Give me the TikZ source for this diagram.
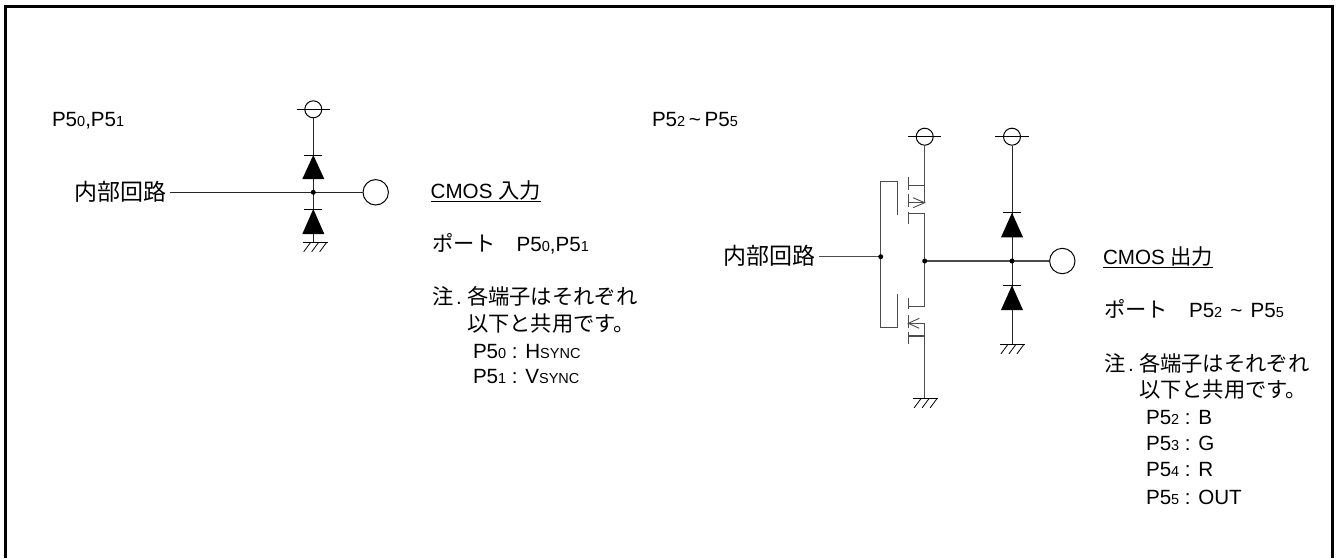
\documentclass[tikz,border=0pt]{standalone}
\usepackage{fontspec}
\setmainfont{Liberation Sans}
\newfontfamily\jp{Noto Sans CJK JP}
\newcommand{\lat}[1]{{\fontsize{20.6}{20.6}\selectfont #1}}
\newcommand{\sbs}[1]{{\fontsize{14.5}{14.5}\selectfont #1}}
\newcommand{\ja}[1]{{\jp\fontsize{21.3}{21.3}\selectfont #1}}
\tikzset{
  wire/.style={line width=1pt,black!85},
  thin wire/.style={line width=1.1pt,black!70},
  ring/.style={circle,draw,line width=1pt,fill=white,inner sep=0pt},
  vring/.style={ring,minimum size=17pt},
  outring/.style={ring,minimum size=25.4pt},
  junction/.style={circle,fill=black,inner sep=0pt,minimum size=5pt},
  txt/.style={anchor=base west,inner sep=0pt,outer sep=0pt},
  blockname/.style={anchor=base east,inner sep=0pt,font=\jp\fontsize{23}{23}\selectfont},
}
\newcommand{\diode}[3]{
  \fill[black] (#1,#2) -- (#1+11,#3) -- (#1-11,#3) -- cycle;
  \draw[line width=1pt] (#1-9,#2) -- (#1+9,#2);
}
\newcommand{\gnd}[2]{
  \draw[line width=1pt] (#1-12.5,#2) -- (#1+12.5,#2);
  \foreach \k in {0,1,2} {
    \draw[line width=.8pt] (#1-4.5+8*\k,#2) -- (#1-11.5+8*\k,#2+9.5);
  }
}
\begin{document}
\begin{tikzpicture}[x=1pt,y=-1pt]
\useasboundingbox (0,0) rectangle (1336,558);
\draw[line width=3pt] (5.5,558) -- (5.5,6.5) -- (1332.5,6.5) -- (1332.5,558);

% ---- left circuit
\coordinate (lj) at (313.3,192.3);
\node[blockname] (lint) at (167,200) {内部回路};
\node[outring] (lout) at (375.7,192.3) {};
\node[vring] (lv) at (313.3,109.3) {};
\draw[wire] (lv.south) -- (313.3,242.3);
\draw[wire] (170,192.3) -- (lout.west);
\draw[line width=1pt] (296.6,109.3) -- (330,109.3);
\diode{313.3}{155}{179}
\diode{313.3}{209}{234}
\gnd{315.2}{242.3}
\node[junction] at (lj) {};

% ---- left texts
\node[txt] (t1) at (52,126) {\lat{P5\sbs{0},P5\sbs{1}}};
\node[txt] (t2) at (430.7,198) {\underline{\lat{CMOS }\ja{入力}}};
\node[txt] (t3) at (432,251) {\ja{ポート}};
\node[txt] (t4) at (516.7,251) {\lat{P5\sbs{0},P5\sbs{1}}};
\node[txt] (t5) at (432,304) {\ja{注}};
\node[txt] (t6) at (456,304) {\lat{.}};
\node[txt] (t7) at (467,304) {\ja{各端子はそれぞれ}};
\node[txt] (t8) at (467,331) {\ja{以下と共用です。}};
\node[txt] (t9) at (473,358) {\lat{P5\sbs{0} : H\sbs{SYNC}}};
\node[txt] (t10) at (473,383) {\lat{P5\sbs{1} : V\sbs{SYNC}}};

% ---- right circuit
\node[blockname] (rint) at (816,264.5) {内部回路};
\coordinate (gj) at (880.7,256.7);
\coordinate (dj) at (924.7,261);
\coordinate (rj) at (1012,261);
\node[outring] (rout) at (1062.3,261) {};
\node[vring] (v1) at (924.7,136.7) {};
\node[vring] (v2) at (1012,136.7) {};
\draw[line width=1pt] (908,136.7) -- (941.4,136.7);
\draw[line width=1pt] (995.3,136.7) -- (1028.7,136.7);
% input and gates
\draw[thin wire] (819.3,256.7) -- (gj);
\draw[thin wire] (897.7,215) -- (897.7,181.7) -- (880.7,181.7) -- (880.7,327.3) -- (897.7,327.3) -- (897.7,294);
% PMOS
\draw[thin wire] (v1.south) -- (924.7,202.7) -- (908.3,202.7);
\draw[thin wire] (924.7,185.7) -- (908.3,185.7);
\draw[thin wire] (908.3,176.7) -- (908.3,190) (908.3,194) -- (908.3,207.3) (908.3,211.7) -- (908.3,224);
\draw[line width=.9pt,black!70] (913,197.7) -- (924.7,202.7) -- (913,207.7);
\draw[thin wire] (908.3,213.3) -- (924.7,213.3) -- (924.7,306.7) -- (908.3,306.7);
% NMOS
\draw[thin wire] (908.3,298.3) -- (908.3,309.3) (908.3,315) -- (908.3,328.3) (908.3,331.7) -- (908.3,344.3);
\draw[thin wire] (908.3,323.3) -- (924.7,323.3) -- (924.7,398.3);
\draw[thin wire] (908.3,336) -- (924.7,336);
\draw[line width=.9pt,black!70] (919.3,318.3) -- (908.3,323.3) -- (919.3,328.3);
\gnd{925.7}{398.3}
% output
\draw[thin wire] (dj) -- (rout.west);
\draw[wire] (v2.south) -- (1012,344.3);
\diode{1012}{212.7}{237.3}
\diode{1012}{285.3}{310}
\gnd{1012.5}{344.3}
\node[junction] at (gj) {};
\node[junction] at (dj) {};
\node[junction] at (rj) {};

% ---- right texts
\node[txt] (u1) at (652,126) {\lat{P5\sbs{2}\hspace{3.7pt}\textasciitilde\hspace{3.7pt}P5\sbs{5}}};
\node[txt] (u2) at (1103,264) {\underline{\lat{CMOS }\ja{出力}}};
\node[txt] (u3) at (1104,317.7) {\ja{ポート}};
\node[txt] (u4) at (1189,317.7) {\lat{P5\sbs{2}\hspace{8.2pt}\textasciitilde\hspace{8.2pt}P5\sbs{5}}};
\node[txt] (u5) at (1104,371.7) {\ja{注}};
\node[txt] (u6) at (1128,371.7) {\lat{.}};
\node[txt] (u7) at (1139,371.7) {\ja{各端子はそれぞれ}};
\node[txt] (u8) at (1139,397) {\ja{以下と共用です。}};
\node[txt] (u9) at (1146,424) {\lat{P5\sbs{2} : B}};
\node[txt] (u10) at (1146,450.7) {\lat{P5\sbs{3} : G}};
\node[txt] (u11) at (1146,476.7) {\lat{P5\sbs{4} : R}};
\node[txt] (u12) at (1146,504) {\lat{P5\sbs{5} : OUT}};
\end{tikzpicture}
\end{document}
